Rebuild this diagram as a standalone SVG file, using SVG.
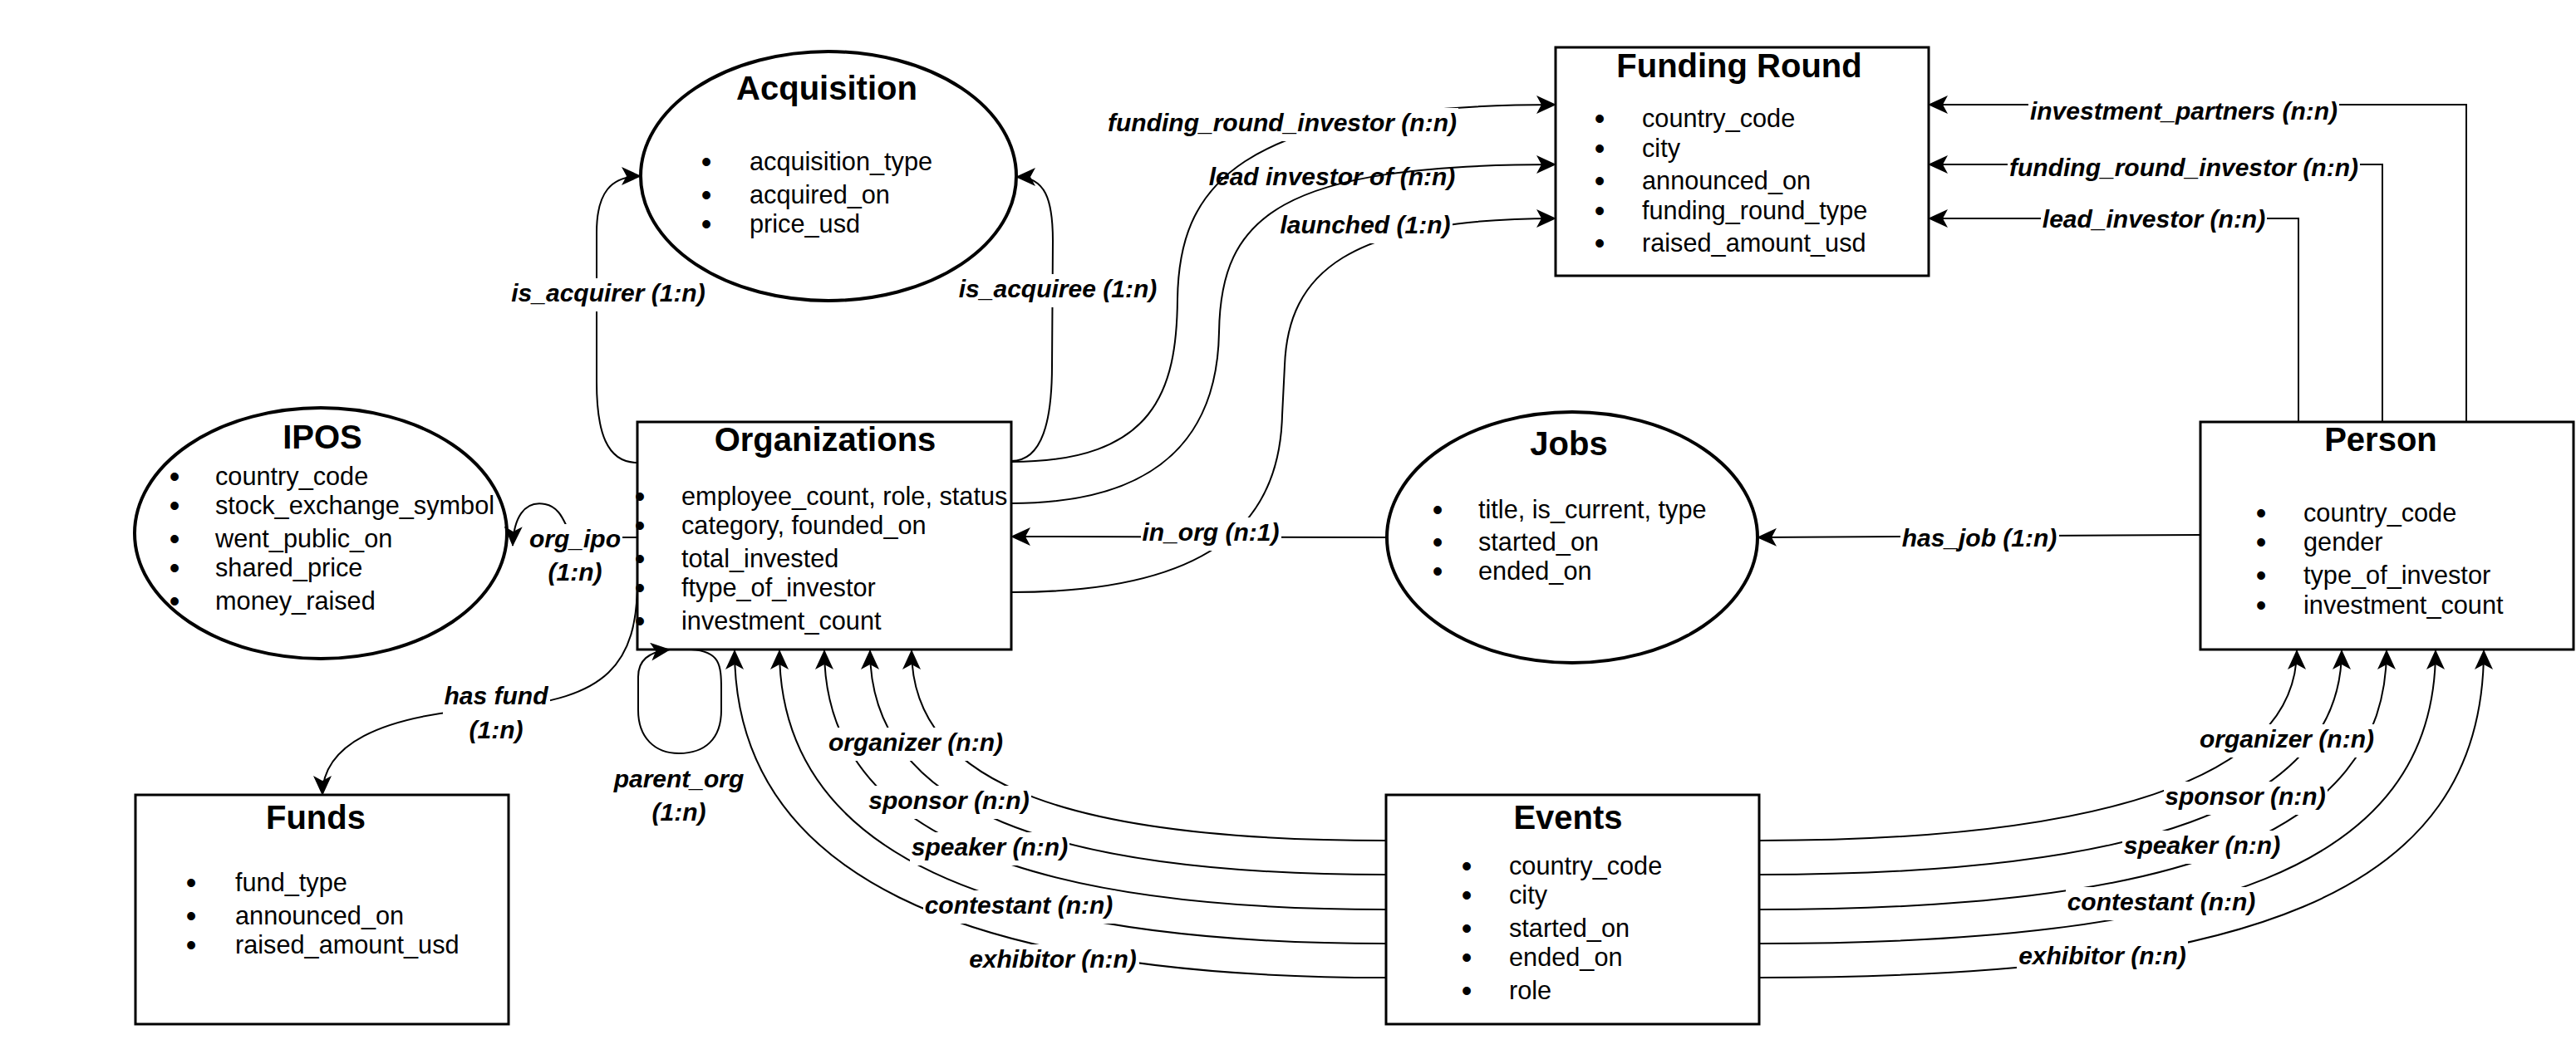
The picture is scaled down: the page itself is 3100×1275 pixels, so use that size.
<svg xmlns="http://www.w3.org/2000/svg" width="3100" height="1275" viewBox="0 0 3100 1275">
<style>
text { font-family: "Liberation Sans", Arial, sans-serif; fill: #000; }
.title { font-size: 40px; font-weight: bold; text-anchor: middle; }
.item { font-size: 30.7px; }
.bul { font-size: 36px; text-anchor: middle; }
.lbl { font-size: 30px; font-weight: bold; font-style: italic; text-anchor: middle; }
.box { fill: #fff; stroke: #000; stroke-width: 3; }
.ell { fill: #fff; stroke: #000; stroke-width: 4; }
.edge { fill: none; stroke: #000; stroke-width: 2; marker-end: url(#arr); }
.bg { fill: #fff; }
</style>
<defs>
<marker id="arr" markerUnits="userSpaceOnUse" markerWidth="24" markerHeight="22" viewBox="0 0 24 22" refX="23" refY="11" orient="auto">
<path d="M0,0 L24,11 L0,22 L6,11 Z" fill="#000"/>
</marker>
</defs>
<rect width="3100" height="1275" fill="#fff"/>

<g id="acquisition">
<ellipse class="ell" cx="997" cy="212" rx="226" ry="150"/>
<text class="title" x="995" y="120">Acquisition</text>
<text class="bul" x="850" y="207">•</text><text class="item" x="902" y="205">acquisition_type</text>
<text class="bul" x="850" y="247">•</text><text class="item" x="902" y="245">acquired_on</text>
<text class="bul" x="850" y="282">•</text><text class="item" x="902" y="280">price_usd</text>
</g>

<g id="funding-round">
<rect class="box" x="1872" y="57" width="449" height="275"/>
<text class="title" x="2093" y="93">Funding Round</text>
<text class="bul" x="1925" y="155">•</text><text class="item" x="1976" y="153">country_code</text>
<text class="bul" x="1925" y="191">•</text><text class="item" x="1976" y="189">city</text>
<text class="bul" x="1925" y="230">•</text><text class="item" x="1976" y="228">announced_on</text>
<text class="bul" x="1925" y="266">•</text><text class="item" x="1976" y="264">funding_round_type</text>
<text class="bul" x="1925" y="305">•</text><text class="item" x="1976" y="303">raised_amount_usd</text>
</g>

<g id="ipos">
<ellipse class="ell" cx="386" cy="642" rx="224" ry="151"/>
<text class="title" x="388" y="540">IPOS</text>
<text class="bul" x="210" y="586">•</text><text class="item" x="259" y="584">country_code</text>
<text class="bul" x="210" y="621">•</text><text class="item" x="259" y="619">stock_exchange_symbol</text>
<text class="bul" x="210" y="661">•</text><text class="item" x="259" y="659">went_public_on</text>
<text class="bul" x="210" y="696">•</text><text class="item" x="259" y="694">shared_price</text>
<text class="bul" x="210" y="736">•</text><text class="item" x="259" y="734">money_raised</text>
</g>

<g id="organizations">
<rect class="box" x="767" y="508" width="450" height="274"/>
<text class="title" x="993" y="543">Organizations</text>
<text class="bul" x="770" y="610">•</text><text class="item" x="820" y="608">employee_count, role, status</text>
<text class="bul" x="770" y="645">•</text><text class="item" x="820" y="643">category, founded_on</text>
<text class="bul" x="770" y="685">•</text><text class="item" x="820" y="683">total_invested</text>
<text class="bul" x="770" y="720">•</text><text class="item" x="820" y="718">ftype_of_investor</text>
<text class="bul" x="770" y="760">•</text><text class="item" x="820" y="758">investment_count</text>
</g>

<g id="jobs">
<ellipse class="ell" cx="1892" cy="647" rx="223" ry="151"/>
<text class="title" x="1888" y="548">Jobs</text>
<text class="bul" x="1730" y="626">•</text><text class="item" x="1779" y="624">title, is_current, type</text>
<text class="bul" x="1730" y="665">•</text><text class="item" x="1779" y="663">started_on</text>
<text class="bul" x="1730" y="700">•</text><text class="item" x="1779" y="698">ended_on</text>
</g>

<g id="person">
<rect class="box" x="2648" y="508" width="449" height="274"/>
<text class="title" x="2865" y="543">Person</text>
<text class="bul" x="2721" y="630">•</text><text class="item" x="2772" y="628">country_code</text>
<text class="bul" x="2721" y="665">•</text><text class="item" x="2772" y="663">gender</text>
<text class="bul" x="2721" y="705">•</text><text class="item" x="2772" y="703">type_of_investor</text>
<text class="bul" x="2721" y="741">•</text><text class="item" x="2772" y="739">investment_count</text>
</g>

<g id="funds">
<rect class="box" x="163" y="957" width="449" height="276"/>
<text class="title" x="380" y="998">Funds</text>
<text class="bul" x="230" y="1075">•</text><text class="item" x="283" y="1073">fund_type</text>
<text class="bul" x="230" y="1115">•</text><text class="item" x="283" y="1113">announced_on</text>
<text class="bul" x="230" y="1150">•</text><text class="item" x="283" y="1148">raised_amount_usd</text>
</g>

<g id="events">
<rect class="box" x="1668" y="957" width="449" height="276"/>
<text class="title" x="1887" y="998">Events</text>
<text class="bul" x="1765" y="1055">•</text><text class="item" x="1816" y="1053">country_code</text>
<text class="bul" x="1765" y="1090">•</text><text class="item" x="1816" y="1088">city</text>
<text class="bul" x="1765" y="1130">•</text><text class="item" x="1816" y="1128">started_on</text>
<text class="bul" x="1765" y="1165">•</text><text class="item" x="1816" y="1163">ended_on</text>
<text class="bul" x="1765" y="1205">•</text><text class="item" x="1816" y="1203">role</text>
</g>

<g id="connectors">
<path class="edge" d="M767 557 C730 557 718 520 718 460 L718 280 C718 232 735 212 771 212"/>
<path class="edge" d="M1217 555 C1255 555 1266 505 1266 440 L1267 290 C1267 240 1258 213 1223 213"/>
<path class="edge" d="M1217 556 C1390 556 1416 470 1417 360 C1419 230 1480 126 1872 126"/>
<path class="edge" d="M1217 606 C1400 606 1465 520 1467 400 C1469 260 1540 198 1872 198"/>
<path class="edge" d="M1217 713 C1470 713 1540 620 1543 500 L1546 440 C1550 330 1620 263 1872 263"/>
<path class="edge" d="M1669 647 L1217 646"/>
<path class="edge" d="M2648 644 L2115 647"/>
<path class="edge" d="M2968 508 V126 H2321"/>
<path class="edge" d="M2867 508 V198 H2321"/>
<path class="edge" d="M2766 508 V263 H2321"/>
<path class="edge" d="M767 647 L695 647 C680 647 682 612 656 607 C630 602 618 625 617 657"/>
<path class="edge" d="M767 700 C767 800 730 842 600 852 C450 860 388 900 388 957"/>
<path class="edge" d="M832 782 C866 784 868 800 868 830 L868 855 C868 890 848 907 817 907 C788 907 768 888 768 855 L768 815 C768 795 780 785 806 782"/>
<path class="edge" d="M1668 1012 C1300 1012 1097 950 1097 783"/>
<path class="edge" d="M1668 1053 C1266 1053 1047 975 1047 783"/>
<path class="edge" d="M1668 1095 C1227 1095 992 1001 992 783"/>
<path class="edge" d="M1668 1136 C1189 1136 938 1026 938 783"/>
<path class="edge" d="M1668 1177 C1151 1177 884 1051 884 783"/>
<path class="edge" d="M2117 1012 C2520 1012 2764 940 2764 783"/>
<path class="edge" d="M2117 1053 C2565 1053 2818 975 2818 783"/>
<path class="edge" d="M2117 1095 C2610 1095 2872 1011 2872 783"/>
<path class="edge" d="M2117 1136 C2655 1136 2931 1046 2931 783"/>
<path class="edge" d="M2117 1177 C2700 1177 2989 1081 2989 783"/>

<g id="labels">
<rect class="bg" x="613" y="335" width="238" height="40"/><text class="lbl" x="732" y="363">is_acquirer (1:n)</text>
<rect class="bg" x="1152" y="330" width="242" height="40"/><text class="lbl" x="1273" y="358">is_acquiree (1:n)</text>
<rect class="bg" x="1331" y="130" width="424" height="40"/><text class="lbl" x="1543" y="158">funding_round_investor (n:n)</text>
<text class="lbl" x="1603" y="223">lead investor of (n:n)</text>
<rect class="bg" x="1538" y="253" width="210" height="40"/><text class="lbl" x="1643" y="281">launched (1:n)</text>
<rect class="bg" x="2441" y="116" width="374" height="40"/><text class="lbl" x="2628" y="144">investment_partners (n:n)</text>
<rect class="bg" x="2416" y="184" width="424" height="40"/><text class="lbl" x="2628" y="212">funding_round_investor (n:n)</text>
<rect class="bg" x="2456" y="246" width="272" height="40"/><text class="lbl" x="2592" y="274">lead_investor (n:n)</text>
<rect class="bg" x="1373" y="623" width="169" height="40"/><text class="lbl" x="1457" y="651">in_org (n:1)</text>
<rect class="bg" x="2287" y="630" width="191" height="40"/><text class="lbl" x="2382" y="658">has_job (1:n)</text>
<rect class="bg" x="635" y="631" width="114" height="81"/><text class="lbl" x="692" y="659">org_ipo</text><text class="lbl" x="692" y="699">(1:n)</text>
<rect class="bg" x="533" y="820" width="129" height="81"/><text class="lbl" x="597" y="848">has fund</text><text class="lbl" x="597" y="889">(1:n)</text>
<rect class="bg" x="737" y="920" width="161" height="81"/><text class="lbl" x="817" y="948">parent_org</text><text class="lbl" x="817" y="988">(1:n)</text>
<rect class="bg" x="995" y="876" width="214" height="40"/><text class="lbl" x="1102" y="904">organizer (n:n)</text>
<rect class="bg" x="1044" y="946" width="197" height="40"/><text class="lbl" x="1142" y="974">sponsor (n:n)</text>
<rect class="bg" x="1095" y="1002" width="192" height="40"/><text class="lbl" x="1191" y="1030">speaker (n:n)</text>
<rect class="bg" x="1111" y="1072" width="231" height="40"/><text class="lbl" x="1226" y="1100">contestant (n:n)</text>
<rect class="bg" x="1165" y="1137" width="206" height="40"/><text class="lbl" x="1267" y="1165">exhibitor (n:n)</text>
<rect class="bg" x="2645" y="872" width="214" height="40"/><text class="lbl" x="2752" y="900">organizer (n:n)</text>
<rect class="bg" x="2604" y="941" width="197" height="40"/><text class="lbl" x="2702" y="969">sponsor (n:n)</text>
<rect class="bg" x="2554" y="1000" width="192" height="40"/><text class="lbl" x="2650" y="1028">speaker (n:n)</text>
<rect class="bg" x="2486" y="1068" width="231" height="40"/><text class="lbl" x="2601" y="1096">contestant (n:n)</text>
<rect class="bg" x="2427" y="1133" width="206" height="40"/><text class="lbl" x="2530" y="1161">exhibitor (n:n)</text>
</g>
</g>
</svg>
